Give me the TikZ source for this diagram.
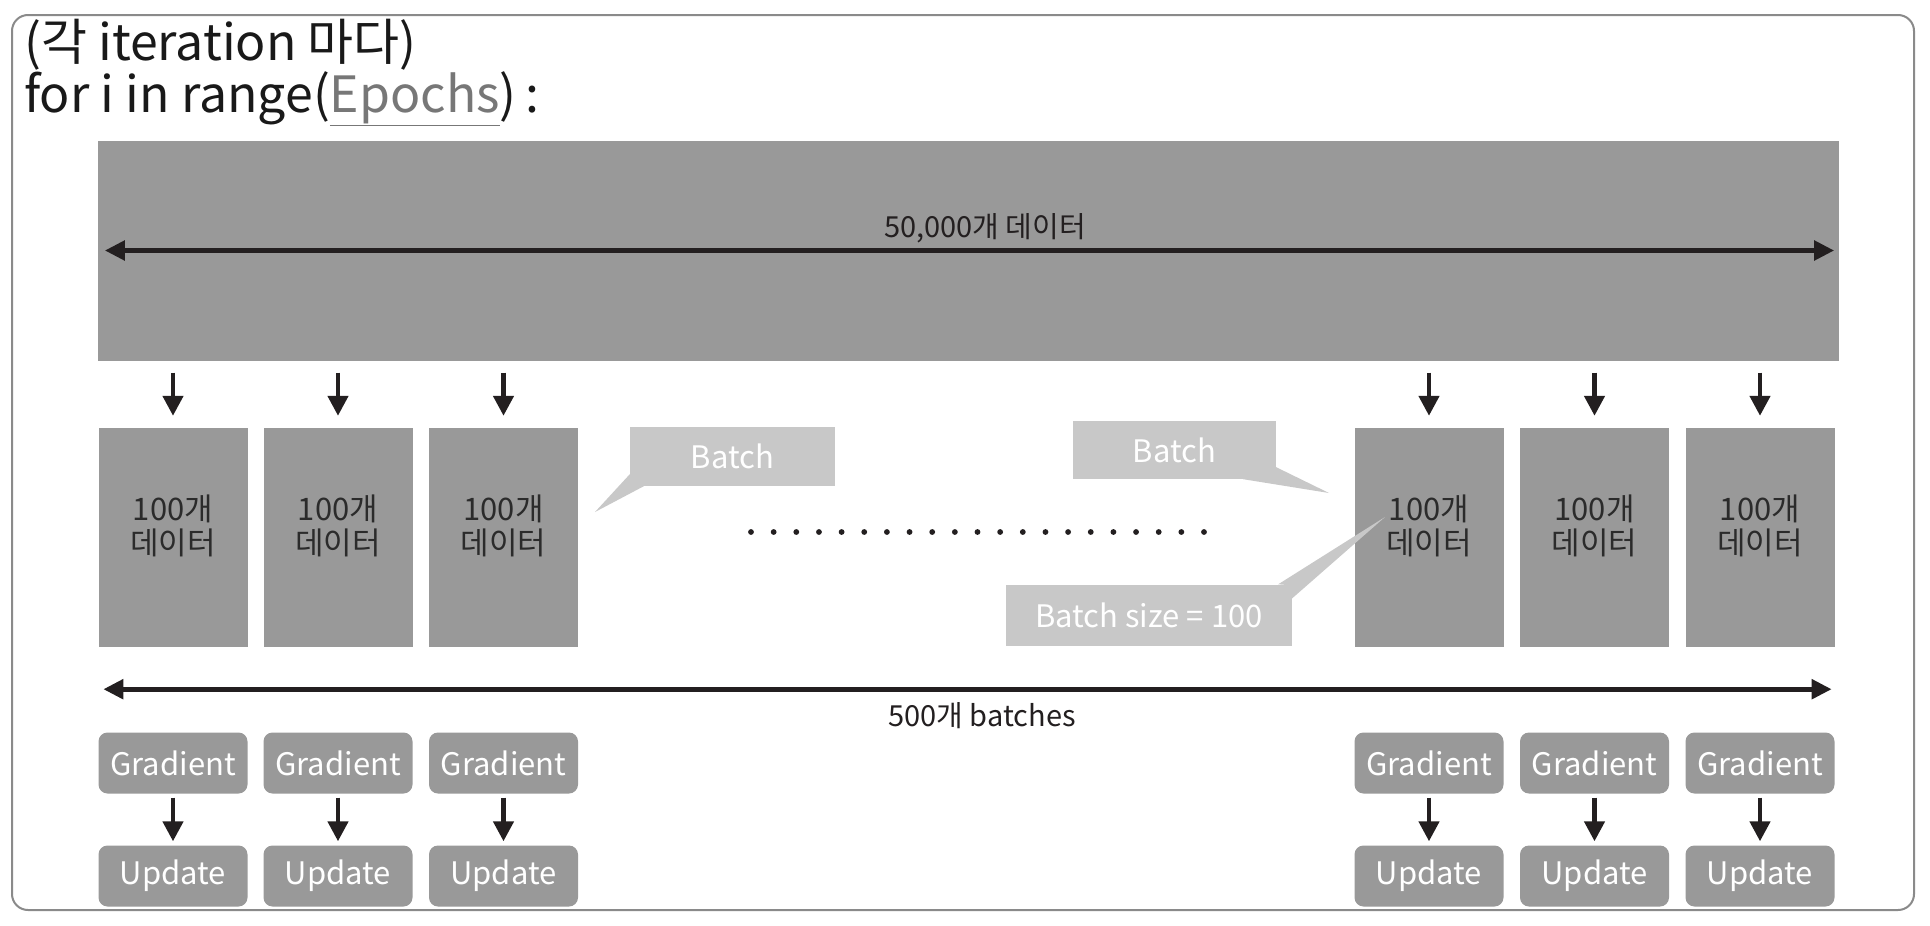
\documentclass[tikz,border=0pt]{standalone}
\usepackage{fontspec}
\setmainfont{Noto Sans CJK KR}
\usetikzlibrary{arrows.meta,calc}
\definecolor{boxgray}{HTML}{999999}
\definecolor{callgray}{HTML}{C8C8C8}
\definecolor{inkdark}{HTML}{231F20}
\definecolor{framegray}{HTML}{8A8A8A}
\definecolor{epgray}{HTML}{777777}
\definecolor{datatext}{HTML}{2B2B2B}
\begin{document}
\begin{tikzpicture}[x=1pt,y=-1pt,
  bigbox/.style={fill=boxgray, draw=none, minimum width=1741pt, minimum height=220pt, inner sep=0pt},
  databox/.style={fill=boxgray, minimum width=149pt, minimum height=219pt, inner sep=0pt},
  datalabel/.style={text=datatext, align=center, font=\fontsize{31}{35}\selectfont, inner sep=0pt},
  callout/.style={fill=callgray, text=white, inner sep=0pt, font=\fontsize{31}{36}\selectfont},
  stepbox/.style={fill=boxgray, rounded corners=9pt, text=white, minimum width=149pt, minimum height=61pt, inner sep=0pt, font=\fontsize{31}{36}\selectfont},
  spanlabel/.style={text=inkdark, inner sep=0pt, font=\fontsize{29}{34}\selectfont},
  titletext/.style={anchor=west, inner sep=0pt, text=black!90, font=\fontsize{50}{58}\selectfont},
  downarrow/.style={draw=inkdark, line width=4.5pt, -{Triangle[length=20pt,width=20pt]}},
  spanarrow/.style={draw=inkdark, line width=5pt, {Triangle[length=20pt,width=19pt]}-{Triangle[length=20pt,width=19pt]}}
]
\useasboundingbox (0,0) rectangle (1930,926);
\fill[white] (0,0) rectangle (1930,926);
% frame
\draw[framegray, line width=2pt, rounded corners=16pt] (12,15) rectangle (1914,910);

% title
\node[titletext] (t1) at (24,45) {(각 iteration 마다)};
\node[titletext] (t2) at (24,99) {for i in range({\color{epgray}\underline{Epochs}})\,:};

% big data box
\node[bigbox] (all) at (968.5,250.5) {};
\draw[spanarrow] ($(all.west)+(7,0)$) -- ($(all.east)+(-5,0)$);
\node[spanlabel] (alllbl) at (985,228) {50,000개 데이터};

% data boxes
\node[databox] (d1) at (173,537.5) {};
\node[databox] (d2) at (338,537.5) {};
\node[databox] (d3) at (503.5,537.5) {};
\node[databox] (d4) at (1429,537.5) {};
\node[databox] (d5) at (1594.5,537.5) {};
\node[databox] (d6) at (1760,537.5) {};

\foreach \d in {d1,d2,d3,d4,d5,d6}{
  \draw[downarrow] ($(all.south -| \d.north)+(0,12)$) -- ($(\d.north)+(0,-12)$);
}

% callouts
\coordinate (tip1) at (595,512);
\coordinate (tip2) at (1329,493);
\coordinate (tip3) at (1385,517);
\node[callout, minimum width=205pt, minimum height=59pt] (cb1) at (732.5,456.5) {Batch};
\fill[callgray] ($(cb1.south west)+(0,-12)$) -- (tip1) -- ($(cb1.south west)+(14,0)$) -- ($(cb1.south west)+(1,-1)$) -- cycle;
\node[callout, minimum width=203pt, minimum height=58pt] (cb2) at (1174.5,450) {Batch};
\fill[callgray] ($(cb2.south east)+(0,-12)$) -- (tip2) -- ($(cb2.south east)+(-33,0)$) -- ($(cb2.south east)+(-1,-1)$) -- cycle;
\node[callout, minimum width=286pt, minimum height=61pt] (cb3) at (1149,615) {Batch size = 100};
\fill[callgray] ($(cb3.north east)+(-14,0)$) -- (tip3) -- ($(cb3.north east)+(0,14)$) -- ($(cb3.north east)+(-1,1)$) -- cycle;

% data labels
\foreach \d in {d1,d2,d3,d4,d5,d6}{
  \node[datalabel] (\d t) at ($(\d.center)+(0,-12)$) {100개\\[-1pt]데이터};
}

% dots
\foreach \i in {0,...,20}{
  \fill[inkdark] (751+\i*22.65,532) circle (2.9pt);
}

% batches span
\draw[spanarrow] ($(d1.south west)+(5,42)$) -- ($(d6.south east)+(-3,42)$);
\node[spanlabel] (batchlbl) at (982,716) {500개 batches};

% gradient / update
\foreach \d/\n in {d1/1,d2/2,d3/3,d4/4,d5/5,d6/6}{
  \node[stepbox] (g\n) at (\d.center |- 0,763) {Gradient};
  \node[stepbox] (u\n) at (\d.center |- 0,876) {Update};
  \draw[downarrow] ($(g\n.south)+(0,4)$) -- ($(u\n.north)+(0,-4)$);
}
\end{tikzpicture}
\end{document}
